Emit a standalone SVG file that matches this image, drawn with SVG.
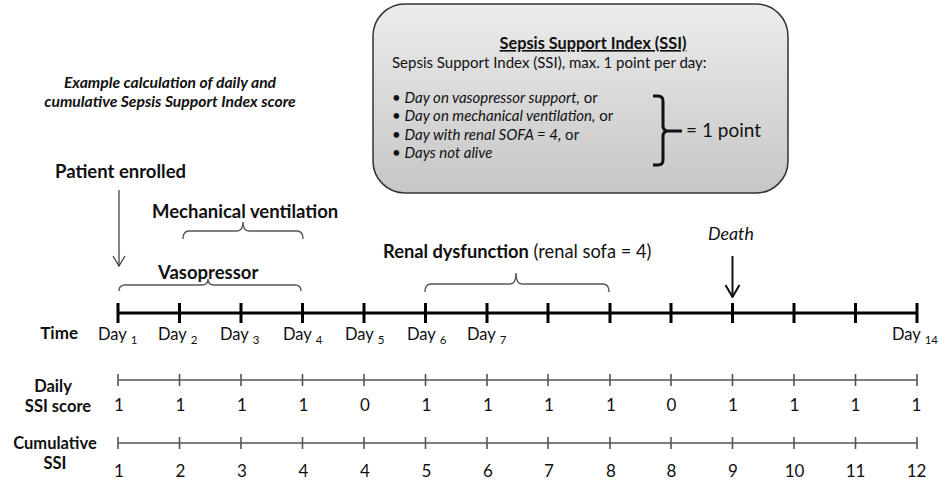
<svg xmlns="http://www.w3.org/2000/svg" width="948" height="487" viewBox="0 0 948 487">
<defs>
<linearGradient id="boxg" x1="0" y1="0" x2="0" y2="1">
<stop offset="0" stop-color="#ececec"/>
<stop offset="1" stop-color="#c6c6c6"/>
</linearGradient>
<marker id="arrThin" viewBox="0 0 12 14" refX="11" refY="7" markerWidth="12" markerHeight="14" markerUnits="userSpaceOnUse" orient="auto">
<path d="M1,1 L11,7 L1,13" fill="none" stroke="#333" stroke-width="1.2"/>
</marker>
<marker id="arrDeath" viewBox="0 0 14 16" refX="13" refY="8" markerWidth="14" markerHeight="16" markerUnits="userSpaceOnUse" orient="auto">
<path d="M1,1 L13,8 L1,15" fill="none" stroke="#111" stroke-width="2"/>
</marker>
</defs>
<style>
text{font-family:Lato,"Open Sans","Liberation Sans",sans-serif;fill:#111}
.b{font-weight:bold}
.i{font-style:italic}
.lbl{font-size:18.5px;font-weight:bold}
.day{font-size:16.5px}
.sub{font-size:11.5px}
.val{font-size:17px;text-anchor:middle}
.box{font-size:15px}
.rl{font-size:16.5px;font-weight:bold;text-anchor:middle}
.brace{fill:none;stroke:#555;stroke-width:1.4}
.main{stroke:#000;stroke-width:3}
.row{stroke:#555;stroke-width:1.6}
</style>

<g id="ssi-box">
<rect x="373" y="4" width="415" height="189" rx="32" ry="32" fill="url(#boxg)" stroke="#333" stroke-width="1.5"/>
<text x="593" y="49" text-anchor="middle" class="b" style="font-size:16.3px;text-decoration:underline">Sepsis Support Index (SSI)</text>
<text x="392" y="68" class="box">Sepsis Support Index (SSI), max. 1 point per day:</text>
<text x="392" y="103" class="box">• <tspan class="i">Day on vasopressor support,</tspan> or</text>
<text x="392" y="121" class="box">• <tspan class="i">Day on mechanical ventilation,</tspan>  or</text>
<text x="392" y="140" class="box">• <tspan class="i">Day with renal SOFA = 4,</tspan> or</text>
<text x="392" y="158" class="box">• <tspan class="i">Days not alive</tspan></text>
<path d="M653,96 L658,96 Q663,96 663,101 L663,126 Q663,130 667,131 Q663,132 663,136 L663,160 Q663,165 658,165 L653,165 M667,131 L682,131" fill="none" stroke="#111" stroke-width="3"/>
<text x="686" y="137" style="font-size:19px">= 1 point</text>
</g>

<g id="title">
<text x="170" y="88" text-anchor="middle" class="b i" style="font-size:15.7px">Example calculation of daily and</text>
<text x="170" y="107" text-anchor="middle" class="b i" style="font-size:15.7px">cumulative Sepsis Support Index score</text>
</g>

<g id="patient-enrolled">
<text x="55" y="178" class="lbl">Patient enrolled</text>
</g>
<g id="mechanical-ventilation">
<text x="152" y="218" class="lbl">Mechanical ventilation</text>
<path class="brace" d="M183,239 Q183,231 189,231 L237,231 Q243,231 243,222 Q243,231 249,231 L297,231 Q303,231 303,239"/>
</g>
<g id="vasopressor">
<text x="158" y="279" class="lbl">Vasopressor</text>
<path class="brace" d="M119,291 Q119,285 125,285 L202,285 Q208,285 208,279 Q208,285 214,285 L295,285 Q301,285 301,291"/>
</g>
<g id="renal-dysfunction">
<text x="383" y="258" style="font-size:18.3px"><tspan class="b">Renal dysfunction</tspan> (renal sofa = 4)</text>
<path class="brace" d="M425,292 Q425,284 431,284 L510,284 Q516,284 516,273 Q516,284 522,284 L603,284 Q609,284 609,292"/>
</g>
<g id="death">
<text x="708" y="240" class="i" style="font-size:17.8px">Death</text>
</g>

<g id="connectors">
<line x1="119" y1="190" x2="119" y2="266" stroke="#333" stroke-width="1.2" marker-end="url(#arrThin)"/>
<line x1="732.5" y1="256" x2="732.5" y2="297" stroke="#111" stroke-width="2" marker-end="url(#arrDeath)"/>
</g>

<g id="timeline">
<line class="main" x1="118" y1="313" x2="917" y2="313"/>
<path class="main" d="M118,303V323M179.5,303V323M241,303V323M302.5,303V323M364,303V323M425.5,303V323M487,303V323M548,303V323M610,303V323M671,303V323M732.5,303V323M794,303V323M855.5,303V323M917,303V323"/>
<text x="78" y="339" text-anchor="end" class="b" style="font-size:17px">Time</text>
<text x="98" y="340" class="day">Day <tspan class="sub" dy="4">1</tspan></text>
<text x="158" y="340" class="day">Day <tspan class="sub" dy="4">2</tspan></text>
<text x="220" y="340" class="day">Day <tspan class="sub" dy="4">3</tspan></text>
<text x="283" y="340" class="day">Day <tspan class="sub" dy="4">4</tspan></text>
<text x="345" y="340" class="day">Day <tspan class="sub" dy="4">5</tspan></text>
<text x="407" y="340" class="day">Day <tspan class="sub" dy="4">6</tspan></text>
<text x="467" y="340" class="day">Day <tspan class="sub" dy="4">7</tspan></text>
<text x="892" y="340" class="day">Day <tspan class="sub" dy="4">14</tspan></text>
</g>

<g id="daily-ssi">
<text x="53" y="392" class="rl">Daily</text>
<text x="58" y="412" class="rl">SSI score</text>
<line class="row" x1="118" y1="380" x2="917" y2="380"/>
<path class="row" d="M118,374V386M179.5,374V386M241,374V386M302.5,374V386M364,374V386M425.5,374V386M487,374V386M548,374V386M610,374V386M671,374V386M732.5,374V386M794,374V386M855.5,374V386M917,374V386"/>
<text y="411" class="val"><tspan x="119">1</tspan><tspan x="180.5">1</tspan><tspan x="242">1</tspan><tspan x="303.5">1</tspan><tspan x="365">0</tspan><tspan x="426.5">1</tspan><tspan x="488">1</tspan><tspan x="549">1</tspan><tspan x="611">1</tspan><tspan x="671.5">0</tspan><tspan x="733">1</tspan><tspan x="794.5">1</tspan><tspan x="855.5">1</tspan><tspan x="916.5">1</tspan></text>
</g>

<g id="cumulative-ssi">
<text x="55" y="449" class="rl">Cumulative</text>
<text x="55" y="469" class="rl">SSI</text>
<line class="row" x1="118" y1="443" x2="917" y2="443"/>
<path class="row" d="M118,437V449M179.5,437V449M241,437V449M302.5,437V449M364,437V449M425.5,437V449M487,437V449M548,437V449M610,437V449M671,437V449M732.5,437V449M794,437V449M855.5,437V449M917,437V449"/>
<text y="477" class="val"><tspan x="119">1</tspan><tspan x="180.5">2</tspan><tspan x="242">3</tspan><tspan x="303.5">4</tspan><tspan x="365">4</tspan><tspan x="426.5">5</tspan><tspan x="488">6</tspan><tspan x="549">7</tspan><tspan x="611">8</tspan><tspan x="671.5">8</tspan><tspan x="733">9</tspan><tspan x="794.5">10</tspan><tspan x="855.5">11</tspan><tspan x="916.5">12</tspan></text>
</g>
</svg>
